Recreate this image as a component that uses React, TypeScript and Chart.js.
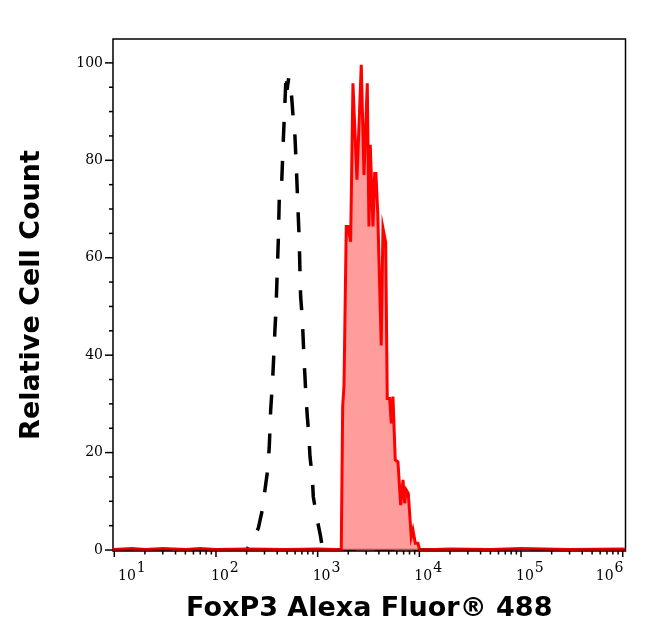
import React, { useEffect, useRef } from "react";
import { Chart, registerables } from "chart.js";

Chart.register(...registerables);

// Isotype control (black dashed) histogram
const isotypeX = [9.7, 30, 100, 200, 215, 240, 261, 285, 303, 320, 334, 345, 361, 380, 389, 401, 410, 419, 430, 442, 459, 477, 490, 500, 520, 535, 555, 576, 598, 622, 645, 659, 670, 680, 706, 733, 750, 767, 791, 821, 840, 885, 906, 991, 1070, 1110, 1200, 10000, 1065000];
const isotypeY = [0, 0, 0, 0, 1, 3, 4.5, 8.2, 12.3, 16, 21, 28.7, 35, 45.2, 49.3, 57.5, 63.5, 72, 73.5, 75, 84, 92, 98, 94.5, 97, 96, 93, 88.3, 84.9, 76.7, 68.4, 63.6, 57, 52, 47.6, 39.6, 35.6, 31.5, 27.4, 23.3, 19.2, 15.1, 10.9, 6.2, 2.7, 0.5, 0, 0, 0];

// FoxP3 stained (red filled) histogram
const foxp3X = [9.7, 15, 20, 30, 50, 70, 100, 200, 500, 1000, 1500, 1706, 1762, 1815, 1911, 1986, 2110, 2223, 2434, 2684, 2853, 3076, 3194, 3290, 3499, 3634, 3742, 3900, 4218, 4385, 4664, 4835, 5103, 5294, 5500, 5794, 6160, 6552, 6906, 7170, 7437, 7785, 8325, 8651, 9120, 9690, 10070, 20000, 50000, 100000, 300000, 1000000, 1065000];
const foxp3Y = [0.1, 0.3, 0.1, 0.3, 0.1, 0.3, 0.1, 0.2, 0.1, 0.2, 0.1, 0, 29.5, 33.7, 66.4, 66.4, 63.3, 95.8, 76, 99.6, 77, 95.8, 66.4, 83.2, 66.4, 77.3, 77.3, 69, 42, 66.1, 63.2, 31.1, 31.1, 26, 31.5, 18.5, 18.1, 9.2, 14.4, 9.6, 12.3, 11.6, 2.7, 4.1, 1.4, 1.4, 0, 0.2, 0.1, 0.3, 0.1, 0.2, 0.1];

const yTickValues = [0, 20, 40, 60, 80, 100];
const yMinorStep = 5;
const xDecades = [1, 2, 3, 4, 5, 6];
const xMinorMultipliers = [2, 3, 4, 5, 6, 7, 8, 9];
const xAxisTitle = "FoxP3 Alexa Fluor® 488";
const yAxisTitle = "Relative Cell Count";

const X_MIN = 9.71;
const X_MAX = 1065000;
const Y_MIN = -0.2;
const Y_MAX = 104.9;

const tickFont = "14px 'DejaVu Serif'";

const axisDecor = {
  id: "axisDecor",
  beforeDatasetsDraw(chart: any) {
    const { ctx, chartArea } = chart;
    ctx.save();
    ctx.strokeStyle = "#000";
    ctx.lineWidth = 1.5;
    ctx.strokeRect(chartArea.left, chartArea.top, chartArea.right - chartArea.left, chartArea.bottom - chartArea.top);
    ctx.restore();
  },
  afterDatasetsDraw(chart: any) {
    const { ctx, chartArea } = chart;
    ctx.save();
    ctx.strokeStyle = "rgba(70,0,0,0.45)";
    ctx.lineWidth = 2.5;
    ctx.beginPath();
    ctx.moveTo(chartArea.left, chartArea.bottom - 1);
    ctx.lineTo(chartArea.right, chartArea.bottom - 1);
    ctx.stroke();
    ctx.restore();
  },
  afterDraw(chart: any) {
    const { ctx, chartArea, scales } = chart;
    const xs = scales.x;
    const ys = scales.y;
    ctx.save();
    ctx.strokeStyle = "#000";
    ctx.lineWidth = 1.5;
    // y ticks
    for (let v = 0; v <= 100; v += yMinorStep) {
      const py = ys.getPixelForValue(v);
      const len = v % 20 === 0 ? 8 : 4;
      ctx.beginPath();
      ctx.moveTo(chartArea.left - len, py);
      ctx.lineTo(chartArea.left, py);
      ctx.stroke();
    }
    // x ticks
    xDecades.forEach((d) => {
      const base = Math.pow(10, d);
      const px = xs.getPixelForValue(base);
      ctx.beginPath();
      ctx.moveTo(px, chartArea.bottom);
      ctx.lineTo(px, chartArea.bottom + 6);
      ctx.stroke();
      if (d < 6) {
        xMinorMultipliers.forEach((k) => {
          const mx = xs.getPixelForValue(k * base);
          ctx.beginPath();
          ctx.moveTo(mx, chartArea.bottom);
          ctx.lineTo(mx, chartArea.bottom + 3.5);
          ctx.stroke();
        });
      }
    });
    // x tick labels: 10 with superscript exponent
    ctx.fillStyle = "#000";
    ctx.font = tickFont;
    ctx.textBaseline = "alphabetic";
    ctx.textAlign = "left";
    xDecades.forEach((d) => {
      const px = xs.getPixelForValue(Math.pow(10, d));
      const exp = String(d);
      const wBase = ctx.measureText("10").width;
      const wExp = ctx.measureText(exp).width;
      const w = wBase + wExp + 1;
      let start = px - 5;
      start = Math.max(start, chartArea.left + 5);
      start = Math.min(start, chartArea.right - w - 2);
      ctx.fillText("10", start, 580);
      ctx.fillText(exp, start + wBase + 1, 572);
    });
    ctx.restore();
  },
};

export default function App() {
  const canvasRef = useRef<HTMLCanvasElement | null>(null);

  useEffect(() => {
    if (!canvasRef.current) return;
    const foxp3Data = foxp3X.map((x, i) => ({ x, y: foxp3Y[i] }));
    const isoData = isotypeX.map((x, i) => ({ x, y: isotypeY[i] }));
    const chart = new Chart(canvasRef.current, {
      type: "line",
      data: {
        datasets: [
          {
            label: "FoxP3",
            data: foxp3Data,
            borderColor: "#ff0000",
            borderWidth: 3,
            backgroundColor: "#ff9d9d",
            fill: "origin",
            pointRadius: 0,
            tension: 0,
          },
          {
            label: "Isotype",
            data: isoData,
            borderColor: "#000000",
            borderWidth: 3.5,
            borderDash: [20, 19],
            fill: false,
            pointRadius: 0,
            tension: 0,
          },
        ],
      },
      options: {
        responsive: false,
        animation: false,
        devicePixelRatio: 1,
        layout: { padding: { top: 39, right: 20.5, left: 0, bottom: 0 } },
        plugins: { legend: { display: false }, tooltip: { enabled: false } },
        scales: {
          x: {
            type: "logarithmic",
            bounds: "data",
            min: X_MIN,
            max: X_MAX,
            grid: { display: false, drawTicks: false },
            border: { display: false },
            ticks: { display: false },
            afterBuildTicks: (s: any) => {
              s.ticks = xDecades.map((d) => ({ value: Math.pow(10, d) }));
            },
            afterFit: (s: any) => {
              s.height = 90;
            },
            title: {
              display: true,
              text: xAxisTitle,
              color: "#000",
              font: { family: "'DejaVu Sans'", size: 27, weight: "bold" },
              padding: { top: 0, bottom: 16 },
            },
          },
          y: {
            type: "linear",
            bounds: "data",
            min: Y_MIN,
            max: Y_MAX,
            grid: { display: false, drawTicks: false },
            border: { display: false },
            afterBuildTicks: (s: any) => {
              s.ticks = yTickValues.map((v) => ({ value: v }));
            },
            ticks: {
              color: "#000",
              padding: 10,
              font: { family: "'DejaVu Serif'", size: 14 },
              callback: (v: any) => String(v),
            },
            afterFit: (s: any) => {
              s.width = 113;
            },
            title: {
              display: true,
              text: yAxisTitle,
              color: "#000",
              font: { family: "'DejaVu Sans'", size: 27, weight: "bold" },
              padding: { top: 16, bottom: 0 },
            },
          },
        },
      },
      plugins: [axisDecor],
    } as any);
    return () => chart.destroy();
  }, []);

  return (
    <div style={{ position: "absolute", left: 0, top: 0, width: 646, height: 641, background: "#fff" }}>
      <canvas ref={canvasRef} width={646} height={641} style={{ display: "block" }} />
    </div>
  );
}
